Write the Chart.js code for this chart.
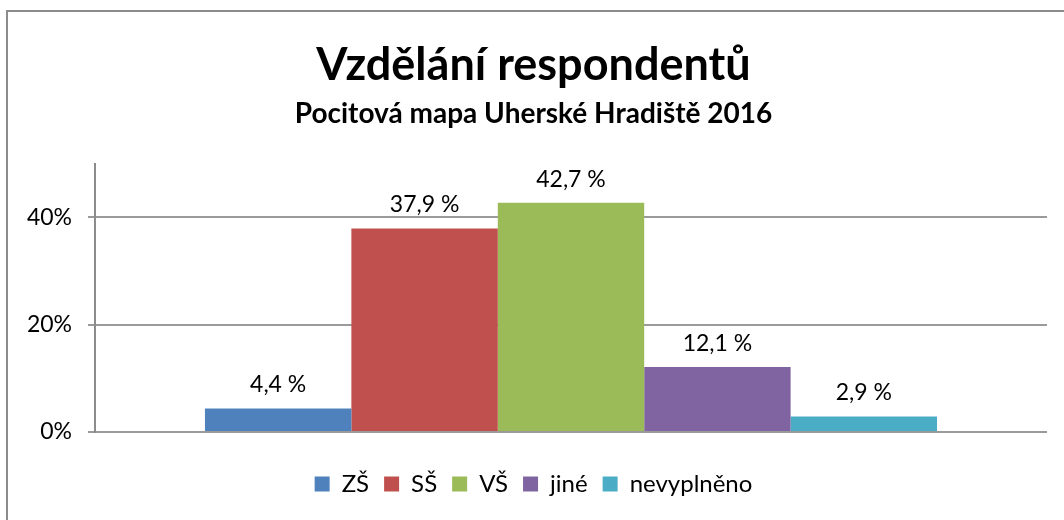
<!DOCTYPE html>
<html lang="cs">
  <head>
    <meta charset="UTF-8" />
    <script src="https://cdn.jsdelivr.net/npm/chart.js@4.4.0/dist/chart.umd.min.js"></script>
    <title>Vzdělání respondentů</title>
    <style>
      html, body { margin: 0; padding: 0; background: #fff; }
      #wrap { width: 1064px; height: 520px; position: relative; }
    </style>
  </head>
  <body>
    <div id="wrap"><canvas id="chart"></canvas></div>
    <script>
      const seriesNames = ["ZŠ", "SŠ", "VŠ", "jiné", "nevyplněno"];
      const seriesValues = [4.4, 37.9, 42.7, 12.1, 2.9];
      const seriesColors = ["#4F81BD", "#C0504D", "#9BBB59", "#8064A2", "#4BACC6"];
      const yTicks = [0, 20, 40];

      const FONT = "Lato, 'Open Sans', sans-serif";

      // outer frame like the Excel chart area
      const framePlugin = {
        id: "frame",
        beforeDraw(chart) {
          const c = chart.ctx;
          c.save();
          c.fillStyle = "#fff";
          c.fillRect(0, 0, chart.width, chart.height);
          c.strokeStyle = "#8c8c8c";
          c.lineWidth = 2;
          c.strokeRect(7, 11, chart.width + 10, chart.height + 10);
          c.restore();
        },
      };

      // value labels above the bars
      const valueLabels = {
        id: "valueLabels",
        afterDatasetsDraw(chart) {
          const c = chart.ctx;
          c.save();
          c.font = "23px " + FONT;
          c.fillStyle = "#000";
          c.textAlign = "center";
          c.textBaseline = "bottom";
          chart.data.datasets.forEach((ds, i) => {
            const bar = chart.getDatasetMeta(i).data[0];
            const txt = ds.data[0].toFixed(1).replace(".", ",") + " %";
            c.fillText(txt, bar.x, bar.y - 12);
          });
          c.restore();
        },
      };

      const datasets = seriesNames.map((name, i) => ({
        label: name,
        data: [seriesValues[i]],
        backgroundColor: seriesColors[i],
        borderWidth: 0,
        categoryPercentage: 0.769,
        barPercentage: 1,
      }));

      new Chart(document.getElementById("chart"), {
        type: "bar",
        data: { labels: [""], datasets },
        plugins: [framePlugin, valueLabels],
        options: {
          responsive: true,
          maintainAspectRatio: false,
          animation: false,
          layout: { padding: { left: 20, right: 17, top: 22, bottom: 14 } },
          plugins: {
            tooltip: { enabled: false },
            title: {
              display: true,
              text: "Vzdělání respondentů",
              color: "#000",
              font: { family: FONT, size: 45, weight: "bold" },
              padding: { top: 16, bottom: 4 },
            },
            subtitle: {
              display: true,
              text: "Pocitová mapa Uherské Hradiště 2016",
              color: "#000",
              font: { family: FONT, size: 28, weight: "bold" },
              padding: { top: 1, bottom: 33 },
            },
            legend: {
              position: "bottom",
              labels: {
                color: "#000",
                font: { family: FONT, size: 24 },
                boxWidth: 15,
                boxHeight: 15,
                padding: 15,
              },
            },
          },
          scales: {
            x: {
              display: true,
              grid: { display: false },
              border: { display: false },
              ticks: { display: false },
              afterFit(scale) {
                scale.height = 25;
              },
            },
            y: {
              min: 0,
              max: 50,
              afterBuildTicks(scale) {
                scale.ticks = yTicks.map((v) => ({ value: v }));
              },
              afterFit(scale) {
                scale.width = 75;
              },
              border: { display: true, color: "#8c8c8c", width: 2 },
              grid: {
                color: "#9a9a9a",
                lineWidth: 2,
                drawTicks: true,
                tickLength: 7,
              },
              ticks: {
                color: "#000",
                padding: 16,
                font: { family: FONT, size: 23 },
                callback: (v) => v + "%",
              },
            },
          },
        },
      });
    </script>
  </body>
</html>
